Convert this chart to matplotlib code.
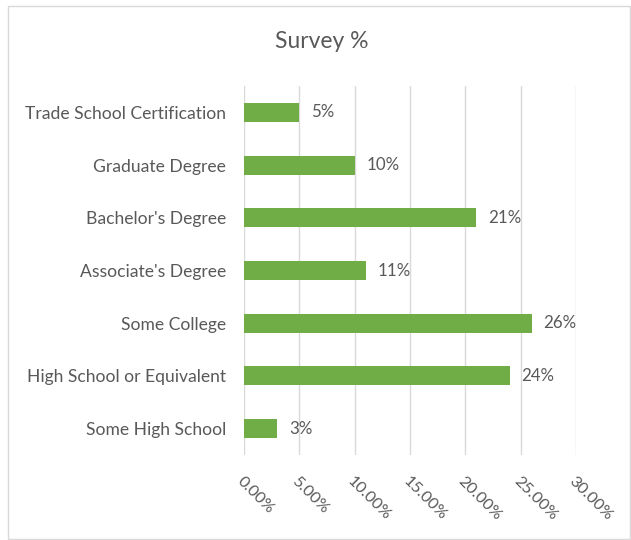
import matplotlib
matplotlib.use("Agg")
import matplotlib.pyplot as plt
from matplotlib.patches import Rectangle
from matplotlib.ticker import FuncFormatter

categories = [
    "Some High School",
    "High School or Equivalent",
    "Some College",
    "Associate's Degree",
    "Bachelor's Degree",
    "Graduate Degree",
    "Trade School Certification",
]
values = [3, 24, 26, 11, 21, 10, 5]
x_ticks = [0, 5, 10, 15, 20, 25, 30]

plt.rcParams["font.family"] = ["Lato", "DejaVu Sans"]
text_color = "#595959"
bar_color = "#70AD47"
grid_color = "#D9D9D9"

fig = plt.figure(figsize=(6.31, 5.40), dpi=100)
fig.patch.set_facecolor("white")

# chart frame
fig.patches.append(Rectangle((8 / 631, 1 / 540), 622 / 631, 533 / 540,
                             transform=fig.transFigure, fill=False,
                             edgecolor="#D9D9D9", linewidth=1.0))

ax = fig.add_axes([244 / 631, 85 / 540, 332 / 631, 369 / 540])
y = list(range(len(categories)))
ax.barh(y, values, height=0.36, color=bar_color, zorder=3)

for yi, v in zip(y, values):
    ax.text(v + 1.05, yi, f"{v}%", va="center", ha="left",
            fontsize=12.2, color=text_color)

ax.set_xlim(0, 30)
ax.set_ylim(-0.5, len(categories) - 0.5)
ax.set_xticks(x_ticks)
ax.xaxis.set_major_formatter(FuncFormatter(lambda x, _: f"{x:.2f}%"))
ax.set_yticks(y)
ax.set_yticklabels(categories)

ax.grid(axis="x", color=grid_color, linewidth=1.0, zorder=0)
for s in ax.spines.values():
    s.set_visible(False)
ax.tick_params(axis="both", length=0, colors=text_color)
ax.tick_params(axis="y", pad=13, labelsize=12.6)
ax.tick_params(axis="x", pad=14, labelsize=11.8)
for lbl in ax.get_xticklabels():
    lbl.set_rotation(-45)
    lbl.set_ha("left")
    lbl.set_va("top")
    lbl.set_rotation_mode("anchor")

fig.text(322 / 631, 1 - 42 / 540, "Survey %", ha="center", va="center",
         fontsize=16.5, color=text_color)

fig.savefig("out.png", dpi=100)
